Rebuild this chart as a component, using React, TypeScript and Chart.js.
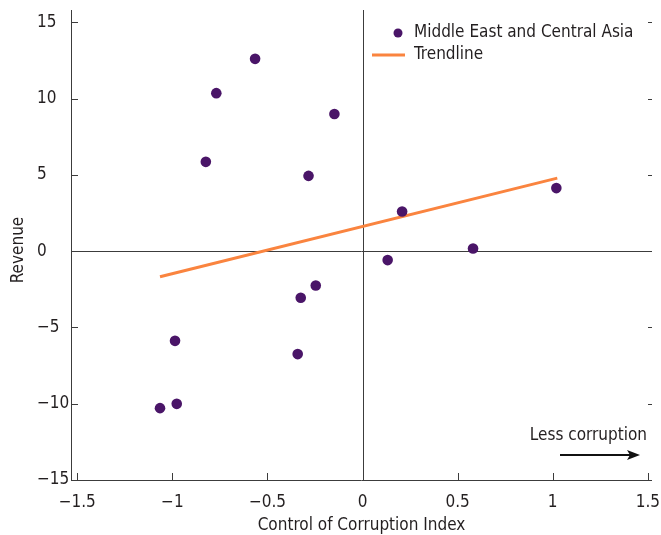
import React, { useEffect, useRef } from "react";
import { Chart, registerables } from "chart.js";

Chart.register(...registerables);

const seriesName = "Middle East and Central Asia";
const trendName = "Trendline";
const xTitle = "Control of Corruption Index";
const yTitle = "Revenue";
const noteText = "Less corruption";

const corruptionIndex = [-1.065, -0.977, -0.986, -0.824, -0.769, -0.565, -0.341, -0.325, -0.284, -0.246, -0.148, 0.132, 0.208, 0.581, 1.019];
const revenue = [-10.29, -10.01, -5.88, 5.85, 10.35, 12.6, -6.75, -3.06, 4.93, -2.25, 8.98, -0.59, 2.6, 0.17, 4.13];

const trendX = [-1.065, 1.024];
const trendY = [-1.68, 4.78];

const xTicks = [-1.5, -1, -0.5, 0, 0.5, 1, 1.5];
const yTicks = [-15, -10, -5, 0, 5, 10, 15];

const FONT = "'Liberation Sans Narrow', 'Arial Narrow', 'DejaVu Sans Condensed', sans-serif";
const FS = 17;
const TEXT = "#231f20";
const AXIS = "#3c3c3c";
const PURPLE = "#4a1568";
const ORANGE = "#fa843f";

const fmt = (v: number) => String(v).replace("-", "\u2212");

const noPad = (s: any) => {
  s.paddingLeft = 0;
  s.paddingRight = 0;
  s.paddingTop = 0;
  s.paddingBottom = 0;
};

const decor = {
  id: "decor",
  beforeDatasetsDraw(chart: any) {
    const { ctx, chartArea } = chart;
    const { left, right, top, bottom } = chartArea;
    const xs = chart.scales.x;
    const ys = chart.scales.y;
    ctx.save();
    ctx.strokeStyle = AXIS;
    ctx.lineWidth = 1;
    ctx.beginPath();
    ctx.moveTo(left + 0.5, top);
    ctx.lineTo(left + 0.5, bottom);
    ctx.moveTo(left, bottom + 0.5);
    ctx.lineTo(right, bottom + 0.5);
    const x0 = Math.round(xs.getPixelForValue(0)) + 0.5;
    ctx.moveTo(x0, top);
    ctx.lineTo(x0, bottom);
    const y0 = Math.round(ys.getPixelForValue(0)) + 0.5;
    ctx.moveTo(left, y0);
    ctx.lineTo(right, y0);
    yTicks.forEach((v) => {
      const y = Math.round(ys.getPixelForValue(v)) + 0.5;
      ctx.moveTo(left, y);
      ctx.lineTo(left + 7, y);
      ctx.moveTo(right - 4, y);
      ctx.lineTo(right, y);
    });
    xTicks.forEach((v) => {
      const x = Math.round(xs.getPixelForValue(v)) + 0.5;
      ctx.moveTo(x, bottom);
      ctx.lineTo(x, bottom - 7);
    });
    ctx.stroke();
    ctx.restore();
  },
  afterDraw(chart: any) {
    const { ctx, chartArea } = chart;
    const { right, bottom } = chartArea;
    ctx.save();
    ctx.fillStyle = TEXT;
    ctx.font = `${FS}px ${FONT}`;
    ctx.save();
    ctx.translate(19, 250);
    ctx.rotate(-Math.PI / 2);
    ctx.textAlign = "center";
    ctx.textBaseline = "middle";
    ctx.fillText(yTitle, 0, 0);
    ctx.restore();
    const lx = 398;
    const ly1 = 33;
    const ly2 = 55;
    ctx.fillStyle = PURPLE;
    ctx.beginPath();
    ctx.arc(lx, ly1, 4.5, 0, Math.PI * 2);
    ctx.fill();
    ctx.strokeStyle = ORANGE;
    ctx.lineWidth = 3;
    ctx.beginPath();
    ctx.moveTo(372, ly2);
    ctx.lineTo(405, ly2);
    ctx.stroke();
    ctx.fillStyle = TEXT;
    ctx.textBaseline = "middle";
    ctx.textAlign = "left";
    ctx.fillText(seriesName, 414, ly1);
    ctx.fillText(trendName, 414, ly2);
    ctx.textAlign = "right";
    ctx.fillText(noteText, right - 5, bottom - 44);
    ctx.strokeStyle = "#111";
    ctx.lineWidth = 2;
    ctx.beginPath();
    ctx.moveTo(560, bottom - 25);
    ctx.lineTo(632, bottom - 25);
    ctx.stroke();
    ctx.fillStyle = "#111";
    ctx.beginPath();
    ctx.moveTo(640, bottom - 25);
    ctx.lineTo(627, bottom - 30);
    ctx.lineTo(630, bottom - 25);
    ctx.lineTo(627, bottom - 20);
    ctx.closePath();
    ctx.fill();
    ctx.restore();
  },
};

export default function App() {
  const ref = useRef<HTMLCanvasElement | null>(null);
  useEffect(() => {
    if (!ref.current) return;
    const chart = new Chart(ref.current, {
      type: "scatter",
      data: {
        datasets: [
          {
            label: seriesName,
            data: corruptionIndex.map((x, i) => ({ x, y: revenue[i] })),
            backgroundColor: PURPLE,
            borderColor: PURPLE,
            pointRadius: 5.3,
            pointBorderWidth: 0,
          },
          {
            type: "line",
            label: trendName,
            data: trendX.map((x, i) => ({ x, y: trendY[i] })),
            borderColor: ORANGE,
            borderWidth: 3,
            pointRadius: 0,
            fill: false,
          } as any,
        ],
      },
      options: {
        animation: false,
        responsive: false,
        maintainAspectRatio: false,
        layout: { padding: { top: 10, right: 9, left: 37, bottom: 0 } },
        plugins: { legend: { display: false }, tooltip: { enabled: false } },
        scales: {
          x: {
            type: "linear",
            min: -1.533,
            max: 1.522,
            afterBuildTicks: (s: any) => {
              s.ticks = xTicks.map((v) => ({ value: v }));
            },
            afterFit: (s: any) => {
              s.height = 55;
              noPad(s);
            },
            grid: { display: false, drawTicks: false },
            border: { display: false },
            ticks: {
              padding: 12,
              color: TEXT,
              font: { family: FONT, size: FS },
              maxRotation: 0,
              autoSkip: false,
              callback: (v: any) => fmt(Number(v)),
            },
            title: {
              display: true,
              text: xTitle,
              color: TEXT,
              font: { family: FONT, size: FS },
              padding: { top: 0, bottom: -1 },
            },
          },
          y: {
            type: "linear",
            min: -15,
            max: 15.8,
            afterBuildTicks: (s: any) => {
              s.ticks = yTicks.map((v) => ({ value: v }));
            },
            afterFit: (s: any) => {
              s.width = 34;
              noPad(s);
            },
            grid: { display: false, drawTicks: false },
            border: { display: false },
            ticks: {
              padding: 4,
              crossAlign: "far",
              color: TEXT,
              font: { family: FONT, size: FS },
              autoSkip: false,
              callback: (v: any) => fmt(Number(v)),
            },
            title: { display: false },
          },
        },
      },
      plugins: [decor],
    });
    return () => chart.destroy();
  }, []);
  return (
    <div style={{ position: "absolute", left: 0, top: 0, width: 661, height: 535, background: "#fff" }}>
      <canvas ref={ref} width={661} height={535} style={{ width: 661, height: 535, display: "block" }} />
    </div>
  );
}
